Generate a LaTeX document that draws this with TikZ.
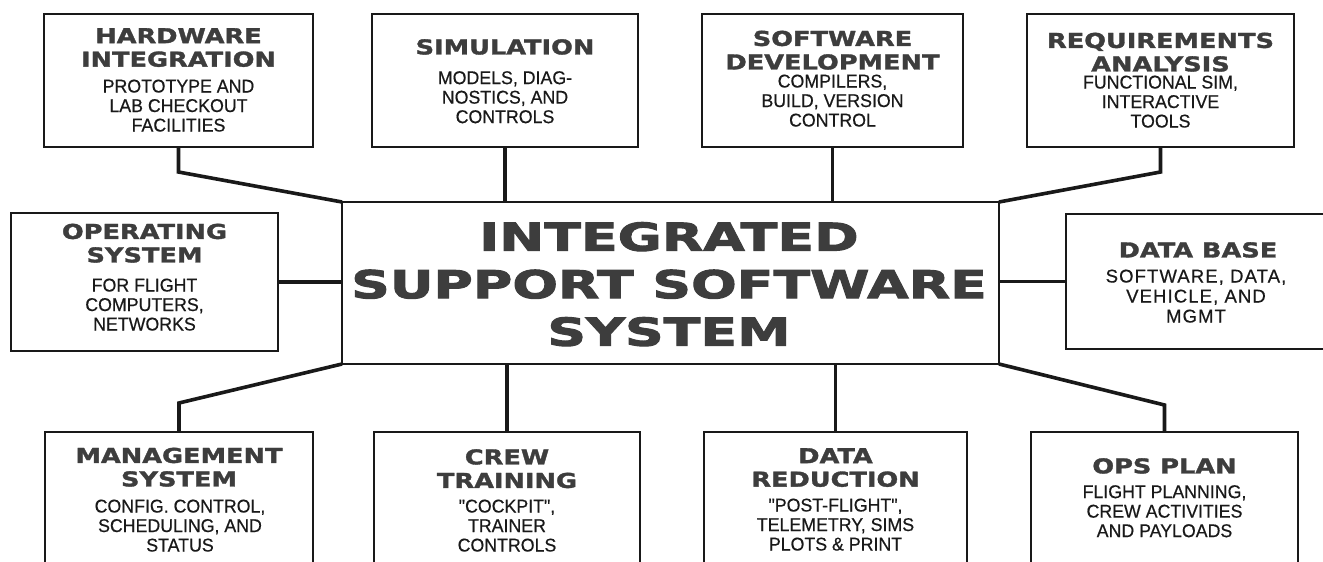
\documentclass[tikz,border=0pt]{standalone}
\usepackage{fontspec}
\newfontfamily\headfont[FakeStretch=1.25,FakeBold=1.6]{DejaVu Sans}
\newfontfamily\bigheadfont[FakeStretch=1.4,FakeBold=2.6]{DejaVu Sans}
\newfontfamily\notefont[FakeStretch=0.96,FakeBold=0.5]{Liberation Sans}
\newfontfamily\widenotefont[FakeBold=0.5,LetterSpace=6]{Liberation Sans}
\definecolor{ink}{rgb}{0.1,0.1,0.1}
\definecolor{headgray}{rgb}{0.24,0.24,0.24}
\tikzset{
  panel/.style={draw=ink, line width=2.6pt, fill=white, inner sep=0pt, outer sep=0pt},
  link/.style={draw=ink, line width=3.6pt},
  head/.style={font=\headfont\bfseries\fontsize{20.5}{23.5}\selectfont, text=headgray,
    align=center, inner sep=0pt, anchor=north},
  bighead/.style={font=\bigheadfont\bfseries\fontsize{38.4}{47.5}\selectfont, text=headgray,
    align=center, inner sep=0pt, anchor=north},
  note/.style={font=\notefont\fontsize{18.5}{19.5}\selectfont, text=ink,
    align=center, inner sep=0pt, anchor=north},
  widenote/.style={note, font=\widenotefont\fontsize{18.5}{20}\selectfont},
}
\begin{document}
\begin{tikzpicture}[x=1pt, y=-1pt]
  \useasboundingbox (0,0) rectangle (1323,562);
  \clip (0,0) rectangle (1323,562);
  \fill[white] (0,0) rectangle (1323,562);

  % central box
  \node[panel, minimum width=657pt, minimum height=162pt] (ctr) at (670.5,283) {};

  % top row
  \node[panel, minimum width=269pt, minimum height=133pt] (hw)  at (178.5,80.5) {};
  \node[panel, minimum width=266pt, minimum height=133pt] (sim) at (505,80.5) {};
  \node[panel, minimum width=261pt, minimum height=133pt] (sd)  at (832.5,80.5) {};
  \node[panel, minimum width=267pt, minimum height=133pt] (ra)  at (1160.5,80.5) {};

  % side boxes
  \node[panel, minimum width=267pt, minimum height=138pt] (os) at (144.5,282) {};
  \node[panel, minimum width=264pt, minimum height=135pt] (db) at (1198,281.5) {};

  % bottom row
  \node[panel, minimum width=268pt, minimum height=178pt] (mgmt) at (179,521) {};
  \node[panel, minimum width=266pt, minimum height=178pt] (crew) at (507,521) {};
  \node[panel, minimum width=263pt, minimum height=178pt] (dr)   at (835.5,521) {};
  \node[panel, minimum width=267pt, minimum height=178pt] (ops)  at (1164.5,521) {};

  % connectors
  \draw[link] (hw.south) -- ++(0,25) -- (ctr.north west);
  \draw[link] (sim.south) -- (sim.south |- ctr.north);
  \draw[link] (sd.south) -- (sd.south |- ctr.north);
  \draw[link] (ra.south) -- ++(0,25) -- (ctr.north east);
  \draw[link] (os.east) -- (os.east -| ctr.west);
  \draw[link] (db.west) -- (db.west -| ctr.east);
  \draw[link] (mgmt.north) -- ++(0,-29) -- (ctr.south west);
  \draw[link] (crew.north) -- (crew.north |- ctr.south);
  \draw[link] (dr.north) -- (dr.north |- ctr.south);
  \draw[link] (ops.north) -- ++(0,-27) -- (ctr.south east);

  % labels
  \node[bighead] (ctrT) at (669,222) {INTEGRATED\\SUPPORT SOFTWARE\\SYSTEM};

  \node[head] (hwT) at (178.5,28) {HARDWARE\\INTEGRATION};
  \node[note] (hwN) at (178.5,79.4) {PROTOTYPE AND\\LAB CHECKOUT\\FACILITIES};

  \node[head] (simT) at (505,39) {SIMULATION};
  \node[note] (simN) at (505,71) {MODELS, DIAG-\\NOSTICS, AND\\CONTROLS};

  \node[head] (sdT) at (832.5,30.5) {SOFTWARE\\DEVELOPMENT};
  \node[note] (sdN) at (832.5,74.4) {COMPILERS,\\BUILD, VERSION\\CONTROL};

  \node[head] (raT) at (1160.5,32.5) {REQUIREMENTS\\ANALYSIS};
  \node[note] (raN) at (1160.5,75.4) {FUNCTIONAL SIM,\\INTERACTIVE\\TOOLS};

  \node[head] (osT) at (144.5,223.5) {OPERATING\\SYSTEM};
  \node[note] (osN) at (144.5,278.4) {FOR FLIGHT\\COMPUTERS,\\NETWORKS};

  \node[head] (dbT) at (1198,242) {DATA BASE};
  \node[widenote] (dbN) at (1196,269.4) {SOFTWARE, DATA,\\VEHICLE, AND\\MGMT};

  \node[head] (mgmtT) at (179,447.5) {MANAGEMENT\\SYSTEM};
  \node[note] (mgmtN) at (180,499.4) {CONFIG. CONTROL,\\SCHEDULING, AND\\STATUS};

  \node[head] (crewT) at (507,449) {CREW\\TRAINING};
  \node[note] (crewN) at (507,499.4) {"COCKPIT",\\TRAINER\\CONTROLS};

  \node[head] (drT) at (835.5,448) {DATA\\REDUCTION};
  \node[note] (drN) at (835.5,498.4) {"POST-FLIGHT",\\TELEMETRY, SIMS\\PLOTS \& PRINT};

  \node[head] (opsT) at (1164.5,458) {OPS PLAN};
  \node[note] (opsN) at (1164.5,485) {FLIGHT PLANNING,\\CREW ACTIVITIES\\AND PAYLOADS};
\end{tikzpicture}
\end{document}
